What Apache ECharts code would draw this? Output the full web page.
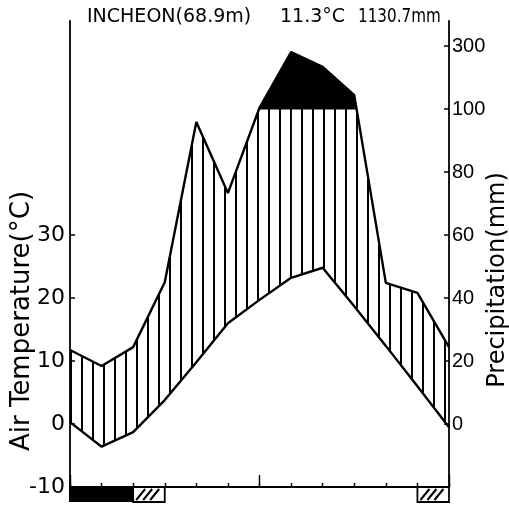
<!DOCTYPE html>
<html><head><meta charset="utf-8">
<script src="https://cdn.jsdelivr.net/npm/echarts@6/dist/echarts.min.js"></script>
<style>html,body{margin:0;padding:0;background:#fff}#c{width:509px;height:505px}</style>
</head><body><div id="c"></div>
<script>
// slot 0 = December (repeated), slots 1..12 = January..December
const monthSlots = [0,1,2,3,4,5,6,7,8,9,10,11,12];
const temperature = [0.3,-3.6,-1.3,3.8,9.8,16.0,19.7,23.2,24.8,18.7,12.4,6.0,-0.5];
const precipitation = [23.5,18.4,24.4,45,95.9,73.3,104,281,234,144,44.8,41.6,24.4];
const tempTicks = [-10,0,10,20,30];
const tempTickMarks = [0,10,20,30];
const precipTicks = [0,20,40,60,80,100,300];
const frostSure = [[0,2]];
const frostPossible = [[2,3],[11,12]];
const titleParts = ['INCHEON(68.9m)','11.3°C','1130.7mm'];
const yTitle = 'Air Temperature(°C)';
const y2Title = 'Precipitation(mm)';

// Walter-Lieth scale: 10 °C = 20 mm, above 100 mm compressed 1:10
function eq(p){ return p <= 100 ? p/2 : 50 + (p-100)/20; }
function fromEq(v){ return v <= 50 ? v*2 : 100 + (v-50)*20; }

const precipEq = precipitation.map(eq);
const tempPts = monthSlots.map((k,i)=>[k, temperature[i]]);
const precipPts = monthSlots.map((k,i)=>[k, precipEq[i]]);
const bandRows = monthSlots.map((k,i)=>[k, temperature[i], precipEq[i]]);

function hatchPattern(){
  const c = document.createElement('canvas'); c.width = 11; c.height = 8;
  const g = c.getContext('2d'); g.fillStyle = '#000';
  g.fillRect(4,0,2,8);
  return c;
}
const HATCH = {image:hatchPattern(), repeat:'repeat'};

const chart = echarts.init(document.getElementById('c'), null, {renderer:'canvas'});
const FONT = 'DejaVu Sans';
const axisLineStyle = {color:'#000', width:1.8};

chart.setOption({
  animation:false,
  backgroundColor:'#fff',
  grid:{left:70, right:60, top:20.8, bottom:18, containLabel:false},
  xAxis:[
    {type:'value', min:0, max:12, interval:1, position:'bottom',
     axisLine:{show:true, onZero:false, lineStyle:axisLineStyle},
     axisTick:{show:true, inside:true, length:4, lineStyle:{color:'#000', width:1.4}},
     axisLabel:{show:false}, splitLine:{show:false}},
    {type:'value', min:0, max:12, interval:6, position:'bottom', offset:0,
     axisLine:{show:false, onZero:false},
     axisTick:{show:true, inside:true, length:12, lineStyle:{color:'#000', width:1.4}},
     axisLabel:{show:false}, splitLine:{show:false}}
  ],
  yAxis:[
    {type:'value', min:-10, max:64, position:'left',
     axisLine:{show:true, onZero:false, lineStyle:axisLineStyle},
     axisTick:{show:true, inside:true, length:5, customValues:tempTickMarks, lineStyle:{color:'#000', width:1.5}},
     axisLabel:{customValues:tempTicks, color:'#000', fontSize:22, fontFamily:FONT, margin:5},
     splitLine:{show:false}},
    {type:'value', min:-10, max:64, position:'right',
     axisLine:{show:true, onZero:false, lineStyle:axisLineStyle},
     axisTick:{show:true, inside:true, length:5, customValues:precipTicks.map(eq), lineStyle:{color:'#000', width:1.5}},
     axisLabel:{customValues:precipTicks.map(eq), formatter:v=>String(Math.round(fromEq(v))),
       color:'#000', fontSize:20, fontFamily:"'Liberation Sans Narrow','Liberation Sans',sans-serif", margin:3},
     splitLine:{show:false}}
  ],
  graphic:[
    {type:'text', x:87, y:17, style:{text:titleParts[0], font:'19px '+FONT, fill:'#000', textAlign:'left', textVerticalAlign:'middle', align:'left', verticalAlign:'middle'}},
    {type:'text', x:280, y:17, style:{text:titleParts[1], font:'19px '+FONT, fill:'#000', textAlign:'left', textVerticalAlign:'middle', align:'left', verticalAlign:'middle'}},
    {type:'text', x:358, y:17, scaleX:0.8, style:{text:titleParts[2], font:'19px '+FONT, fill:'#000', textAlign:'left', textVerticalAlign:'middle', align:'left', verticalAlign:'middle'}},
    {type:'text', x:22, y:321, rotation:Math.PI/2, style:{text:yTitle, font:'26px '+FONT, fill:'#000', textAlign:'center', textVerticalAlign:'middle', align:'center', verticalAlign:'middle'}},
    {type:'text', x:498, y:280, rotation:Math.PI/2, style:{text:y2Title, font:'24px '+FONT, fill:'#000', textAlign:'center', textVerticalAlign:'middle', align:'center', verticalAlign:'middle'}}
  ],
  series:[
    {name:'humid', type:'custom', data:bandRows, z:2, clip:false,
     encode:{x:0, y:[1,2]},
     renderItem:function(params, api){
       const i = params.dataIndexInside;
       if (i >= bandRows.length - 1) return null;
       const x0 = api.value(0,i), t0 = api.value(1,i), p0 = api.value(2,i);
       const x1 = api.value(0,i+1), t1 = api.value(1,i+1), p1 = api.value(2,i+1);
       const pts = [[x0, t0], [x0, Math.min(p0,50)]];
       if ((p0 - 50) * (p1 - 50) < 0) pts.push([x0 + (50-p0)/(p1-p0)*(x1-x0), 50]);
       pts.push([x1, Math.min(p1,50)], [x1, t1]);
       return {type:'polygon', shape:{points:pts.map(p=>api.coord(p))}, style:{fill:HATCH}};
     }},
    {name:'perhumid', type:'custom', data:precipPts, z:4, clip:false,
     renderItem:function(params, api){
       const i = params.dataIndexInside;
       if (i >= precipPts.length - 1) return null;
       const x0 = api.value(0,i), v0 = api.value(1,i), x1 = api.value(0,i+1), v1 = api.value(1,i+1);
       if (v0 <= 50 && v1 <= 50) return null;
       const pts = [];
       if (v0 > 50) { pts.push([x0,50],[x0,v0]); } else { pts.push([x0 + (50-v0)/(v1-v0)*(x1-x0), 50]); }
       if (v1 > 50) { pts.push([x1,v1],[x1,50]); } else { pts.push([x0 + (50-v0)/(v1-v0)*(x1-x0), 50]); }
       return {type:'polygon', shape:{points:pts.map(p=>api.coord(p))}, style:{fill:'#000', stroke:'#000', lineWidth:1}};
     }},
    {name:'temp', type:'line', data:tempPts, symbol:'none', z:5,
     lineStyle:{color:'#000', width:2.4}},
    {name:'precip', type:'line', data:precipPts, symbol:'none', z:5,
     lineStyle:{color:'#000', width:2.4}},
    {name:'frostSure', type:'custom', data:frostSure, z:6, clip:false,
     renderItem:function(params, api){
       const a = api.coord([api.value(0), -10]), b = api.coord([api.value(1), -10]);
       return {type:'rect', shape:{x:a[0]-1, y:a[1], width:b[0]-a[0]+1, height:15}, style:{fill:'#000'}};
     }},
    {name:'frostPossible', type:'custom', data:frostPossible, z:6, clip:false,
     renderItem:function(params, api){
       const a = api.coord([api.value(0), -10]), b = api.coord([api.value(1), -10]);
       const x0 = a[0], x1 = b[0], yt = a[1], yb = a[1]+15;
       const children = [{type:'rect', shape:{x:x0, y:yt, width:x1-x0, height:15}, style:{fill:'#fff', stroke:'#000', lineWidth:1.8}}];
       for (let xs = x0+3; xs + 9 <= x1 - 1; xs += 7) {
         children.push({type:'line', shape:{x1:xs, y1:yb-2, x2:xs+9, y2:yt+2}, style:{stroke:'#000', lineWidth:2}});
       }
       return {type:'group', children:children};
     }}
  ]
});
</script></body></html>
